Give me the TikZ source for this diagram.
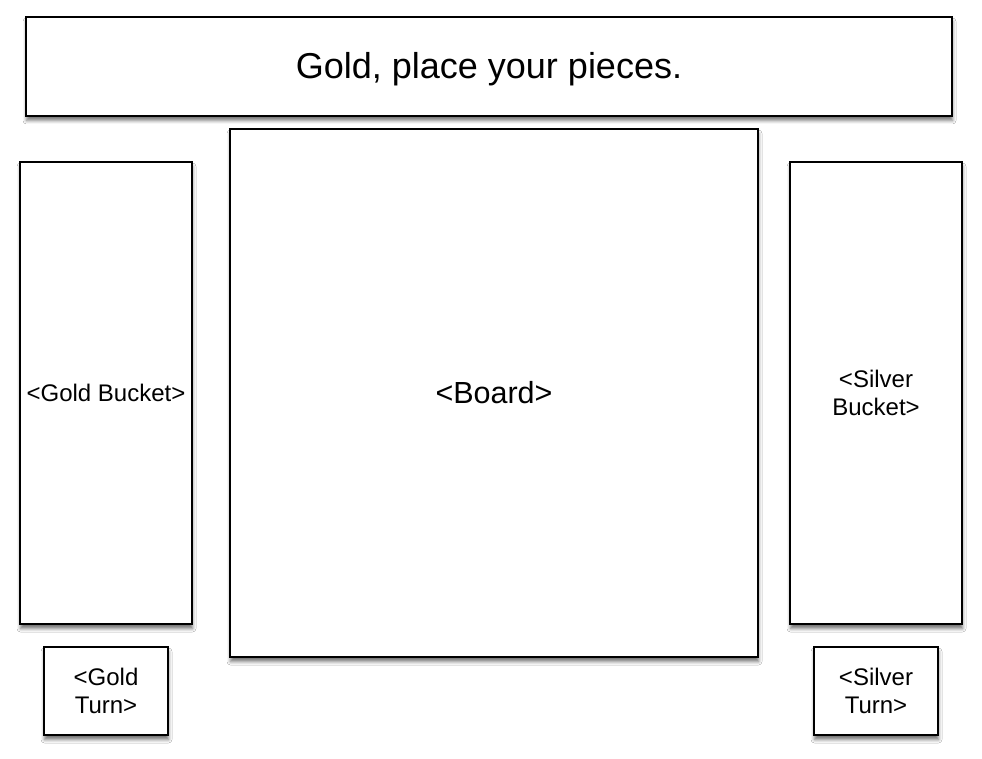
\documentclass[tikz,border=0pt]{standalone}
\usepackage{fontspec}
\setmainfont{Liberation Sans}
\usetikzlibrary{shadows.blur}
\begin{document}
\begin{tikzpicture}[x=1pt,y=1pt,
  panel/.style={draw=black, line width=1.4pt, fill=white, rectangle, inner sep=0pt,
    blur shadow={shadow xshift=0.5pt, shadow yshift=-4.5pt, shadow blur radius=3.5pt, shadow opacity=55}},
  lbl/.style={font=\fontsize{24}{28}\selectfont, align=center}]
\useasboundingbox (0,0) rectangle (982,-759);
\fill[white] (0,0) rectangle (982,-759);
% boxes
\node[panel, minimum width=926pt, minimum height=99pt] (title) at (489,-66.5) {};
\node[panel, minimum width=172pt, minimum height=462pt] (goldbucket) at (106,-393) {};
\node[panel, minimum width=528pt, minimum height=528pt] (board) at (494,-393) {};
\node[panel, minimum width=172pt, minimum height=462pt] (silverbucket) at (876,-393) {};
\node[panel, minimum width=124pt, minimum height=88pt] (goldturn) at (106,-691) {};
\node[panel, minimum width=124pt, minimum height=88pt] (silverturn) at (876,-691) {};
% labels
\node[font=\fontsize{36}{40}\selectfont, anchor=base] at ([yshift=-12.5pt]title.center) {Gold, place your pieces.};
\node[lbl] at (goldbucket) {<Gold Bucket>};
\node[font=\fontsize{30.5}{34}\selectfont] at (board) {<Board>};
\node[lbl] at (silverbucket) {<Silver\\Bucket>};
\node[lbl] at (goldturn) {<Gold\\Turn>};
\node[lbl] at (silverturn) {<Silver\\Turn>};
\end{tikzpicture}
\end{document}
